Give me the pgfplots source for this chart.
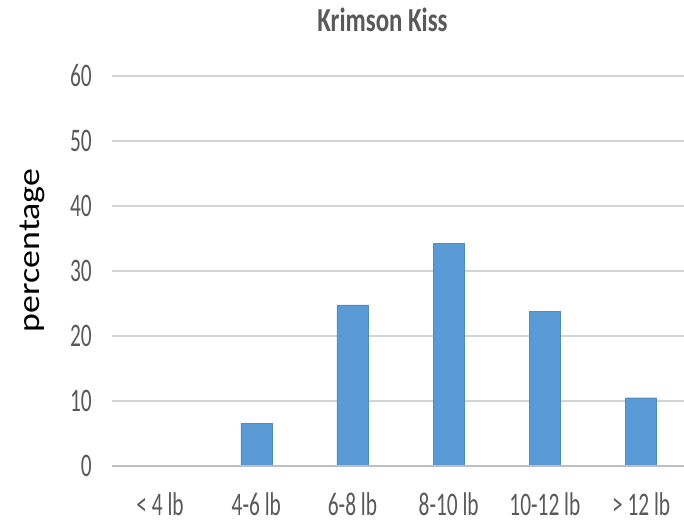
\documentclass[border=0pt]{standalone}
\usepackage{pgfplots}
\pgfplotsset{compat=1.18}
\usepackage{fontspec}
\setmainfont{Carlito}
\newfontfamily\tickfont{Carlito}[FakeStretch=0.65]
\newfontfamily\titlefont{Carlito}[FakeStretch=0.74]
\definecolor{barblue}{HTML}{5B9BD5}
\definecolor{txtgray}{HTML}{595959}
\definecolor{gridgray}{HTML}{D4D4D4}
\definecolor{axgray}{HTML}{BFBFBF}
\begin{document}
\begin{tikzpicture}
\useasboundingbox (-112bp,-57bp) rectangle (572bp,466bp);
\begin{axis}[
  at={(0,0)}, anchor=south west,
  scale only axis,
  width=572bp, height=390bp,
  xmin=-0.5, xmax=5.446,
  ymin=0, ymax=60,
  ytick={0,10,...,60},
  xtick={0,1,2,3,4,5},
  xticklabels={{< 4 lb},{4-6 lb},{6-8 lb},{8-10 lb},{10-12 lb},{> 12 lb}},
  axis line style={draw=none},
  tick style={draw=none},
  ymajorgrids,
  grid style={draw=gridgray, line width=1.4bp},
  /pgf/number format/assume math mode=true,
  yticklabel style={font=\tickfont\fontsize{33}{33}\selectfont, text=txtgray, anchor=east, inner sep=0pt, xshift=-20bp},
  xticklabel style={font=\tickfont\fontsize{33}{33}\selectfont, text=txtgray, anchor=base, inner sep=0pt, yshift=-49bp},
  enlargelimits=false,
  clip=false,
]
\addplot[ybar, bar width=31bp, bar shift=0pt, fill=barblue, draw=barblue!90!black, line width=0.4bp]
  coordinates {(1,6.6) (2,24.8) (3,34.3) (4,23.8) (5,10.5)};
\draw[axgray, line width=1.6bp] (axis cs:-0.5,0) -- (axis cs:5.446,0);
\end{axis}
\node[font=\titlefont\bfseries\fontsize{33.7}{34}\selectfont, text=txtgray, anchor=base, inner sep=0pt] at (270.5bp,434bp) {Krimson Kiss};
\node[rotate=90, inner sep=0pt, font=\fontsize{36}{36}\selectfont] at (-80bp,215.5bp) {\scalebox{1}[0.86]{percentage}};
\end{tikzpicture}
\end{document}
